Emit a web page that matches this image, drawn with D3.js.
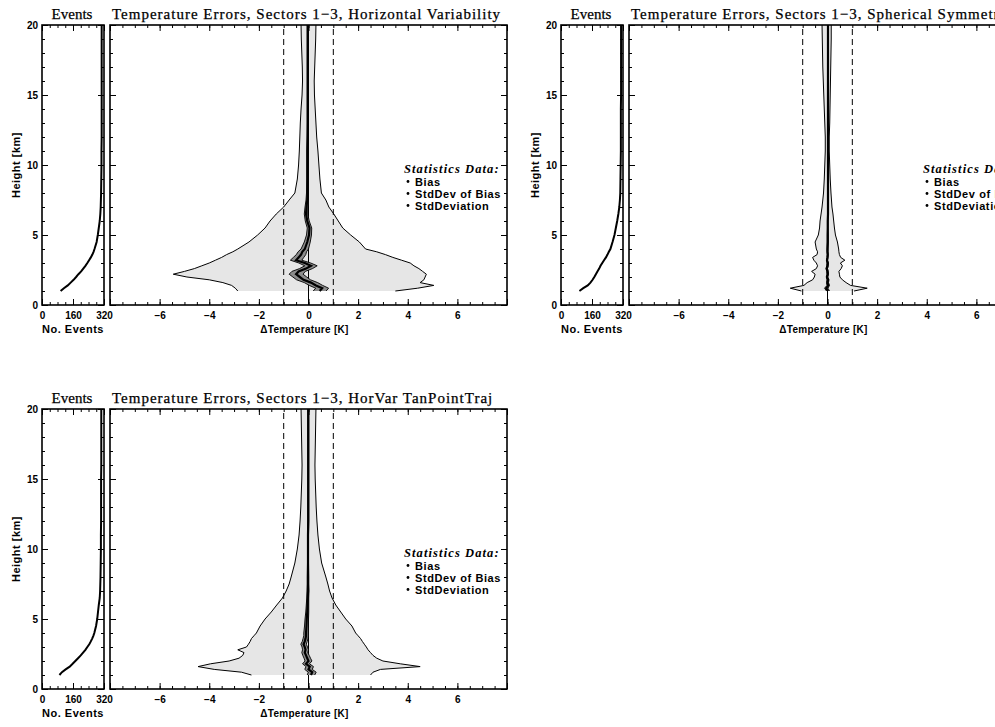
<!DOCTYPE html>
<html>
<head>
<meta charset="utf-8">
<script src="https://cdn.jsdelivr.net/npm/d3@7"></script>
<style>
body { margin: 0; background: #fff; }
svg { display: block; }
</style>
</head>
<body>
<script>
// heights [km] shared by all profiles
const heights = [1.0,1.2,1.4,1.6,1.8,2.0,2.2,2.4,2.6,2.8,3.0,3.2,3.4,3.6,3.8,4.0,
                 4.5,5.0,5.5,6.0,6.5,7.0,7.5,8.0,9,10,11,12,13,14,15,16,17,18,19,20];

// Horizontal Variability
const hvEvents = [96,113,133,148,163,176,188,202,213,224,234,243,252,260,266,271,
                  282,288,293,298,301,303,304,305,306,307,307,308,308,308,308,308,308,308,308,308];
const hvBias = [0.45,0.55,0.30,0.10,-0.20,-0.35,-0.50,-0.40,-0.10,0.10,-0.15,-0.50,-0.40,-0.30,-0.25,-0.15,
                -0.05,0.02,0.04,-0.05,-0.10,-0.08,-0.05,-0.04,-0.04,-0.04,-0.04,-0.03,-0.03,-0.03,-0.03,-0.03,-0.03,-0.03,-0.03,-0.03];
const hvBiasSd = [0.26,0.26,0.27,0.27,0.28,0.28,0.28,0.27,0.26,0.25,0.24,0.23,0.21,0.19,0.17,0.15,
                  0.12,0.10,0.09,0.08,0.07,0.06,0.05,0.04,0.03,0.03,0.03,0.03,0.02,0.02,0.02,0.02,0.02,0.02,0.02,0.02];
const hvSdLow = [-2.85,-2.95,-3.10,-3.45,-4.00,-4.90,-5.45,-5.00,-4.60,-4.30,-4.00,-3.75,-3.50,-3.30,-3.05,-2.85,
                 -2.40,-2.05,-1.75,-1.55,-1.30,-1.00,-0.78,-0.55,-0.45,-0.40,-0.37,-0.35,-0.33,-0.30,-0.26,-0.24,-0.25,-0.27,-0.29,-0.30];
const hvSdHigh = [3.50,4.40,5.05,4.50,4.65,4.70,4.75,4.60,4.45,4.25,4.10,3.75,3.40,3.10,2.75,2.30,
                  2.05,1.70,1.38,1.20,1.02,0.82,0.70,0.52,0.46,0.42,0.38,0.33,0.30,0.27,0.24,0.23,0.25,0.27,0.29,0.30];

// Spherical Symmetry
const ssEvents = [95,115,138,152,163,172,180,188,197,204,213,222,232,240,247,255,
                  266,276,283,290,296,301,304,306,307,308,309,309,309,309,310,310,310,310,310,310];
const ssBias = [0.02,-0.05,0.03,0.00,0.02,-0.02,0.01,0.00,-0.03,0.00,0.01,-0.02,0.00,0.01,0.00,0.00,
                0.01,0.01,0.01,0.01,0.02,0.02,0.02,0.02,0.02,0.02,0.02,0.02,0.02,0.02,0.02,0.02,0.02,0.02,0.02,0.02];
const ssBiasSd = [0.06,0.07,0.05,0.04,0.04,0.03,0.03,0.03,0.03,0.03,0.03,0.02,0.02,0.02,0.02,0.02,
                  0.02,0.02,0.01,0.01,0.01,0.01,0.01,0.01,0.01,0.01,0.01,0.01,0.01,0.01,0.01,0.01,0.01,0.01,0.01,0.01];
const ssSdLow = [-1.05,-1.50,-0.95,-0.82,-0.60,-0.53,-0.50,-0.64,-0.45,-0.40,-0.45,-0.55,-0.60,-0.42,-0.40,-0.45,
                 -0.50,-0.37,-0.32,-0.30,-0.26,-0.22,-0.19,-0.16,-0.13,-0.11,-0.09,-0.09,-0.11,-0.13,-0.15,-0.17,-0.19,-0.20,-0.21,-0.22];
const ssSdHigh = [1.07,1.60,0.93,0.75,0.60,0.50,0.48,0.46,0.55,0.60,0.52,0.70,0.53,0.48,0.46,0.45,
                  0.40,0.32,0.28,0.25,0.22,0.18,0.16,0.14,0.11,0.09,0.07,0.07,0.09,0.10,0.11,0.12,0.13,0.14,0.15,0.15];

// HorVar TanPointTraj
const tpEvents = [90,103,122,143,158,172,186,200,212,224,234,244,252,259,265,270,
                  279,285,289,293,298,300,301,302,303,304,304,305,305,305,305,306,306,306,306,306];
const tpBias = [0.10,0.15,0.00,0.05,-0.10,0.00,-0.05,-0.10,-0.15,-0.12,-0.15,-0.20,-0.15,-0.12,-0.10,-0.10,
                -0.08,-0.07,-0.05,-0.04,-0.03,-0.02,-0.02,-0.02,-0.02,-0.02,-0.02,-0.01,-0.01,-0.01,-0.01,-0.01,-0.01,-0.01,-0.01,-0.01];
const tpBiasSd = [0.15,0.16,0.15,0.15,0.14,0.14,0.13,0.13,0.12,0.12,0.11,0.11,0.10,0.10,0.09,0.09,
                  0.08,0.07,0.06,0.05,0.04,0.04,0.03,0.03,0.02,0.02,0.02,0.02,0.02,0.02,0.02,0.02,0.02,0.02,0.02,0.02];
const tpSdLow = [-2.30,-2.70,-3.80,-4.45,-3.95,-3.20,-2.80,-2.65,-2.60,-2.85,-2.50,-2.42,-2.35,-2.30,-2.20,-2.10,
                 -1.95,-1.75,-1.50,-1.28,-1.05,-0.90,-0.78,-0.70,-0.55,-0.45,-0.38,-0.34,-0.31,-0.29,-0.27,-0.26,-0.27,-0.28,-0.29,-0.30];
const tpSdHigh = [2.50,2.60,2.90,4.50,3.70,3.00,2.75,2.60,2.50,2.40,2.33,2.25,2.17,2.10,2.00,1.90,
                  1.75,1.50,1.30,1.10,0.95,0.85,0.78,0.70,0.53,0.44,0.38,0.34,0.31,0.29,0.27,0.26,0.27,0.28,0.29,0.30];

const eventTicks = [0, 160, 320];
const tempTicks = [-6, -4, -2, 0, 2, 4, 6];
const heightTicks = [0, 5, 10, 15, 20];
const legendItems = ["Bias", "StdDev of Bias", "StdDeviation"];

const panels = [
  {col: 0, row: 0, title: "Temperature Errors, Sectors 1\u22123, Horizontal Variability",
   events: hvEvents, bias: hvBias, biasSd: hvBiasSd, lo: hvSdLow, hi: hvSdHigh},
  {col: 1, row: 0, title: "Temperature Errors, Sectors 1\u22123, Spherical Symmetry",
   events: ssEvents, bias: ssBias, biasSd: ssBiasSd, lo: ssSdLow, hi: ssSdHigh},
  {col: 0, row: 1, title: "Temperature Errors, Sectors 1\u22123, HorVar TanPointTraj",
   events: tpEvents, bias: tpBias, biasSd: tpBiasSd, lo: tpSdLow, hi: tpSdHigh}
];

const width = 995, height = 727;
const serif = "'Liberation Serif','Times New Roman',serif";
const sans = "'Liberation Sans',Arial,sans-serif";

const svg = d3.select("body").append("svg")
    .attr("width", width)
    .attr("height", height);

function frame(g, x, y, xMajor, xMinor, xLabels, yLabels) {
  const [x0, x1] = x.range(), [y0, y1] = y.range();
  const ax = (a, vals, size, f) => a.tickValues(vals).tickSize(size).tickSizeOuter(0).tickFormat(f);
  const tidy = s => s.call(s => s.select(".domain").remove())
      .attr("font-family", sans).attr("font-size", 10).attr("font-weight", "bold");

  // bottom
  g.append("g").attr("transform", `translate(0,${y0})`)
    .call(ax(d3.axisBottom(x), xMinor, -3, "")).call(tidy);
  g.append("g").attr("transform", `translate(0,${y0})`)
    .call(ax(d3.axisBottom(x), xMajor, -6, xLabels ? d3.format("") : "").tickPadding(7)).call(tidy);
  // top
  g.append("g").attr("transform", `translate(0,${y1})`)
    .call(ax(d3.axisTop(x), xMinor, -3, "")).call(tidy);
  g.append("g").attr("transform", `translate(0,${y1})`)
    .call(ax(d3.axisTop(x), xMajor, -6, "")).call(tidy);
  // left
  g.append("g").attr("transform", `translate(${x0},0)`)
    .call(ax(d3.axisLeft(y), d3.range(0, 21, 1), -3, "")).call(tidy);
  g.append("g").attr("transform", `translate(${x0},0)`)
    .call(ax(d3.axisLeft(y), heightTicks, -6, yLabels ? d3.format("") : "").tickPadding(4)).call(tidy);
  // right
  g.append("g").attr("transform", `translate(${x1},0)`)
    .call(ax(d3.axisRight(y), d3.range(0, 21, 1), -3, "")).call(tidy);
  g.append("g").attr("transform", `translate(${x1},0)`)
    .call(ax(d3.axisRight(y), heightTicks, -6, "")).call(tidy);

  g.append("rect")
    .attr("x", x0).attr("y", y1)
    .attr("width", x1 - x0).attr("height", y0 - y1)
    .attr("fill", "none").attr("stroke", "#000").attr("stroke-width", 1.6);
}

panels.forEach(p => {
  const ox = p.col * 519, oy = p.row * 384;
  const y = d3.scaleLinear([0, 20], [oy + 305, oy + 25]);
  const xe = d3.scaleLinear([0, 320], [ox + 42, ox + 104]);
  const xt = d3.scaleLinear([-8, 8], [ox + 110, ox + 507]);
  const g = svg.append("g");

  const rows = heights.map((h, i) => ({
    h, ev: p.events[i], b: p.bias[i], sb: p.biasSd[i], lo: p.lo[i], hi: p.hi[i]
  }));

  // ---- events panel
  g.append("path")
    .datum(rows)
    .attr("fill", "none")
    .attr("stroke", "#000")
    .attr("stroke-width", 2)
    .attr("d", d3.line().x(d => xe(d.ev)).y(d => y(d.h)));

  frame(g, xe, y, eventTicks, d3.range(0, 321, 40), true, true);

  g.append("text")
    .attr("x", xe(160) - 1).attr("y", oy + 19)
    .attr("text-anchor", "middle")
    .attr("font-family", serif).attr("font-size", 15)
    .attr("stroke", "#000").attr("stroke-width", 0.25)
    .text("Events");
  g.append("text")
    .attr("x", xe(160)).attr("y", oy + 333)
    .attr("text-anchor", "middle")
    .attr("font-family", sans).attr("font-size", 11).attr("font-weight", "bold")
    .attr("letter-spacing", 0.5)
    .text("No. Events");
  g.append("text")
    .attr("transform", `translate(${ox + 20},${oy + 165}) rotate(-90)`)
    .attr("text-anchor", "middle")
    .attr("font-family", sans).attr("font-size", 11).attr("font-weight", "bold")
    .attr("letter-spacing", 0.5)
    .text("Height [km]");

  // ---- temperature error panel
  g.append("path")
    .datum(rows)
    .attr("fill", "#e6e6e6")
    .attr("d", d3.area().y(d => y(d.h)).x0(d => xt(d.lo)).x1(d => xt(d.hi)));

  ["lo", "hi"].forEach(k => {
    g.append("path")
      .datum(rows)
      .attr("fill", "none")
      .attr("stroke", "#000")
      .attr("stroke-width", 1)
      .attr("d", d3.line().x(d => xt(d[k])).y(d => y(d.h)));
  });

  [-1, 1].forEach(v => {
    g.append("line")
      .attr("x1", xt(v)).attr("x2", xt(v))
      .attr("y1", y(0)).attr("y2", y(20))
      .attr("stroke", "#000").attr("stroke-width", 1)
      .attr("stroke-dasharray", "6,4");
  });
  g.append("line")
    .attr("x1", xt(0)).attr("x2", xt(0))
    .attr("y1", y(0)).attr("y2", y(20))
    .attr("stroke", "#000").attr("stroke-width", 1);

  g.append("path")
    .datum(rows)
    .attr("fill", "#8c8c8c")
    .attr("d", d3.area().y(d => y(d.h)).x0(d => xt(d.b - d.sb)).x1(d => xt(d.b + d.sb)));
  [-1, 1].forEach(s => {
    g.append("path")
      .datum(rows)
      .attr("fill", "none")
      .attr("stroke", "#000")
      .attr("stroke-width", 0.9)
      .attr("d", d3.line().x(d => xt(d.b + s * d.sb)).y(d => y(d.h)));
  });
  g.append("path")
    .datum(rows)
    .attr("fill", "none")
    .attr("stroke", "#000")
    .attr("stroke-width", 2.2)
    .attr("d", d3.line().x(d => xt(d.b)).y(d => y(d.h)));

  frame(g, xt, y, d3.range(-8, 8.01, 2), d3.range(-8, 8.01, 0.5), false, false);

  // x labels -6..6 only
  g.append("g").attr("transform", `translate(0,${oy + 305})`)
    .call(d3.axisBottom(xt).tickValues(tempTicks).tickSize(0).tickPadding(7))
    .call(s => s.select(".domain").remove())
    .attr("font-family", sans).attr("font-size", 10).attr("font-weight", "bold");

  g.append("text")
    .attr("x", xt(0) - 4).attr("y", oy + 333)
    .attr("text-anchor", "middle")
    .attr("font-family", sans).attr("font-size", 10).attr("font-weight", "bold")
    .attr("letter-spacing", 0.3)
    .text("\u0394Temperature [K]");

  g.append("text")
    .attr("x", ox + 112).attr("y", oy + 19)
    .attr("font-family", serif).attr("font-size", 15)
    .attr("letter-spacing", 1.0)
    .attr("stroke", "#000").attr("stroke-width", 0.25)
    .text(p.title);

  // legend
  const lg = g.append("g").attr("transform", `translate(${ox + 404},${oy + 173})`);
  lg.append("text")
    .attr("font-family", serif).attr("font-size", 12.5)
    .attr("font-style", "italic").attr("font-weight", "bold")
    .attr("letter-spacing", 1.1)
    .text("Statistics Data:");
  legendItems.forEach((t, i) => {
    lg.append("circle")
      .attr("cx", 4).attr("cy", 8.5 + i * 12).attr("r", 1.4).attr("fill", "#000");
    lg.append("text")
      .attr("x", 11).attr("y", 12.5 + i * 12)
      .attr("font-family", sans).attr("font-size", 11).attr("font-weight", "bold")
      .attr("letter-spacing", 0.6)
      .text(t);
  });
});
</script>
</body>
</html>
